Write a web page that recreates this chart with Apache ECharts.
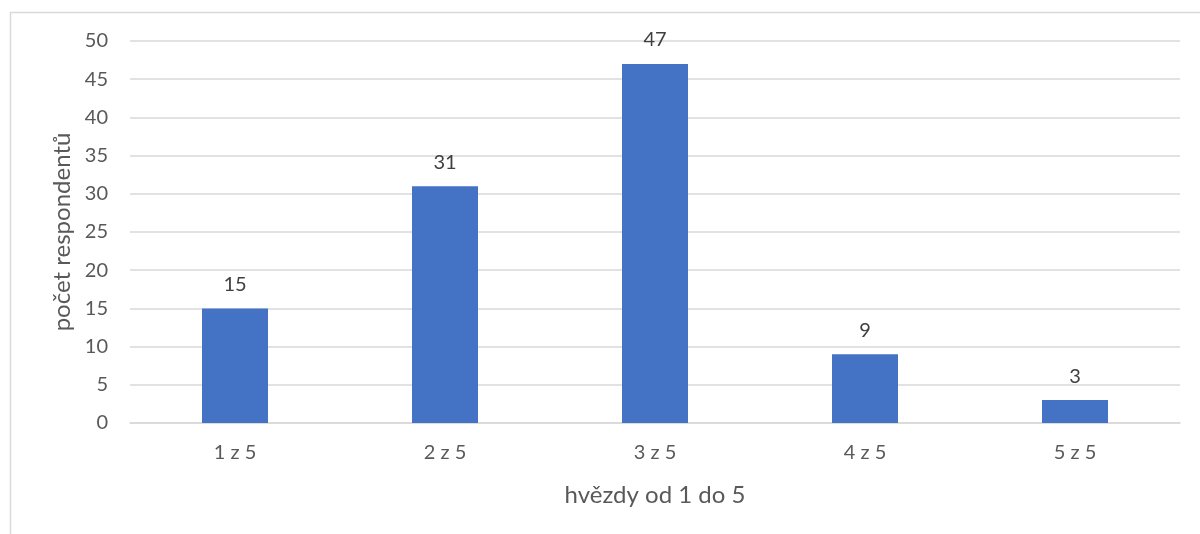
<!DOCTYPE html>
<html><head><meta charset="utf-8">
<script src="https://cdn.jsdelivr.net/npm/echarts@6/dist/echarts.min.js"></script>
<style>html,body{margin:0;padding:0;background:#fff}#c{width:1200px;height:534px}</style>
</head><body><div id="c"></div>
<script>
const categories = ['1 z 5', '2 z 5', '3 z 5', '4 z 5', '5 z 5'];
const values = [15, 31, 47, 9, 3];
const xTitle = 'hvězdy od 1 do 5';
const yTitle = 'počet respondentů';
const font = 'Lato, "Open Sans", sans-serif';
const chart = echarts.init(document.getElementById('c'), null, {renderer: 'canvas'});
chart.setOption({
  animation: false,
  backgroundColor: '#fff',
  graphic: [{type: 'rect', shape: {x: 10.5, y: 12.5, width: 1300, height: 700}, style: {fill: 'none', stroke: '#d9d9d9', lineWidth: 1.5}, silent: true, z: -1}],
  grid: {left: 130, right: 20, top: 41, bottom: 111},
  xAxis: {
    type: 'category', data: categories,
    name: xTitle, nameLocation: 'middle', nameGap: 60,
    nameTextStyle: {color: '#595959', fontSize: 24, fontFamily: font},
    axisLine: {show: true, lineStyle: {color: '#d9d9d9', width: 1.5}},
    axisTick: {show: false},
    axisLabel: {color: '#595959', fontSize: 20, fontFamily: font, margin: 20}
  },
  yAxis: {
    type: 'value', min: 0, max: 50, interval: 5,
    name: yTitle, nameLocation: 'middle', nameGap: 56, nameRotate: 90,
    nameTextStyle: {color: '#595959', fontSize: 24, fontFamily: font},
    axisLine: {show: false}, axisTick: {show: false},
    axisLabel: {color: '#595959', fontSize: 20, fontFamily: font, margin: 22},
    splitLine: {lineStyle: {color: '#d9d9d9', width: 1.5}}
  },
  series: [{
    type: 'bar', data: values, barWidth: 66,
    itemStyle: {color: '#4472C4'},
    label: {show: true, position: 'top', distance: 14, color: '#404040', fontSize: 20, fontFamily: font}
  }]
});
</script></body></html>
